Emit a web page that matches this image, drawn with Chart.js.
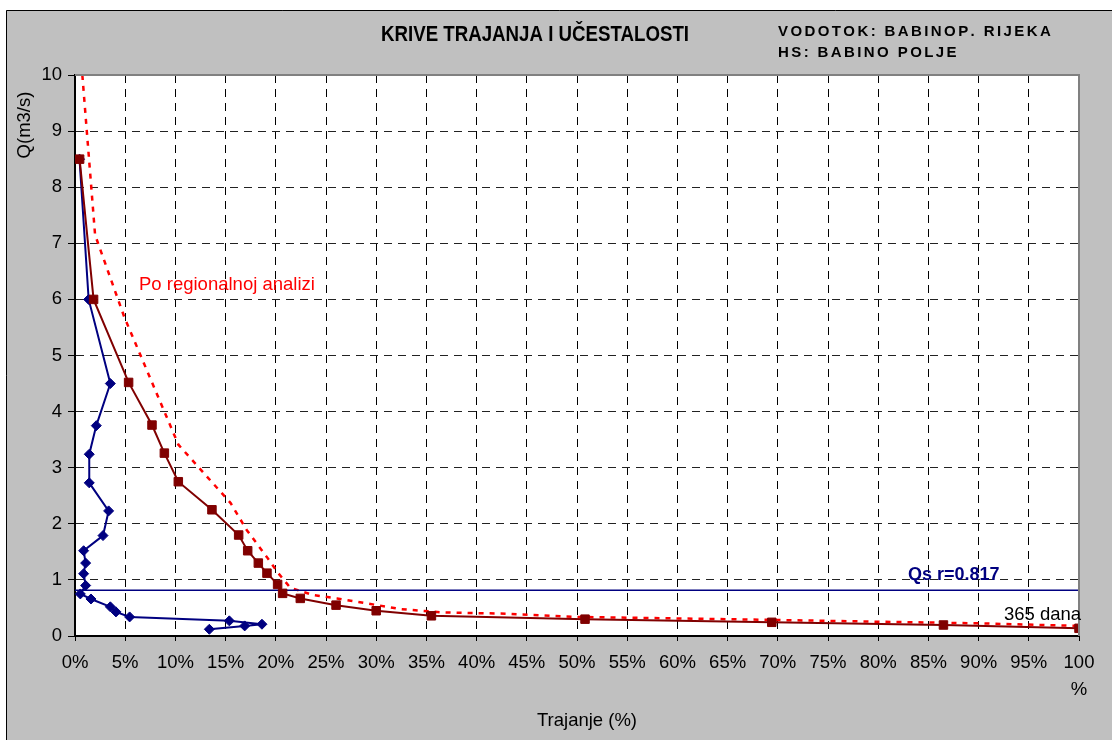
<!DOCTYPE html>
<html>
<head>
<meta charset="utf-8">
<script src="https://cdn.jsdelivr.net/npm/chart.js@4"></script>
<style>
html,body{margin:0;padding:0;background:#fff;overflow:hidden}
#wrap{position:relative;width:1112px;height:740px}
</style>
</head>
<body>
<div id="wrap"><canvas id="c" width="1112" height="740"></canvas></div>
<script>
// ---- data ----
const xTickLabels = ['0%','5%','10%','15%','20%','25%','30%','35%','40%','45%','50%','55%','60%','65%','70%','75%','80%','85%','90%','95%',['100','%']];
const yTickLabels = ['0','1','2','3','4','5','6','7','8','9','10'];

// duration curve (trajanje) - brown squares
const durationPct = [0.46, 1.85, 5.34, 7.67, 8.9, 10.29, 13.64, 16.3, 17.2, 18.26, 19.12, 20.18, 20.68, 22.44, 26.0, 30.0, 35.5, 50.8, 69.4, 86.5, 100];
const durationQ   = [8.5, 6.0, 4.52, 3.76, 3.26, 2.75, 2.25, 1.80, 1.52, 1.30, 1.12, 0.92, 0.76, 0.67, 0.55, 0.45, 0.36, 0.30, 0.244, 0.196, 0.137];

// frequency curve (učestalost) - blue diamonds
const frequencyPct = [0.45, 1.36, 3.52, 2.12, 1.42, 1.42, 3.35, 2.79, 0.86, 1.06, 0.86, 1.06, 0.53, 1.59, 3.52, 4.08, 5.44, 15.37, 18.62, 16.9, 13.38];
const frequencyQ   = [8.5, 6.0, 4.5, 3.75, 3.24, 2.73, 2.23, 1.79, 1.52, 1.30, 1.11, 0.90, 0.75, 0.66, 0.52, 0.43, 0.34, 0.27, 0.21, 0.18, 0.12];

// regional analysis curve - red dotted
const regionalPct = [0.73, 2.0, 4.9, 10.3, 15.5, 17.1, 19.1, 20.25, 21.45, 23.7, 26.1, 30.1, 32.4, 36.7, 42.4, 50, 65, 80, 90, 100];
const regionalQ   = [10.0, 7.15, 5.69, 3.41, 2.37, 1.89, 1.41, 1.12, 0.86, 0.73, 0.67, 0.55, 0.48, 0.42, 0.40, 0.34, 0.30, 0.255, 0.226, 0.18];

// mean flow
const qsrValue = 0.817;
const qsrPct = [0, 100];

const texts = {
  title: 'KRIVE TRAJANJA I UČESTALOSTI',
  river: 'VODOTOK: BABINOP. RIJEKA',
  station: 'HS: BABINO POLJE',
  yTitle: 'Q(m3/s)',
  xTitle: 'Trajanje (%)',
  regional: 'Po regionalnoj analizi',
  qsr: 'Qs r=0.817',
  days: '365 dana'
};

const toPts = (xs, ys) => xs.map((x, i) => ({x: x, y: ys[i]}));
const FONT = '"Liberation Sans", Arial, Helvetica, sans-serif';

function spacedText(ctx, str, x, y, spacing) {
  let cx = x;
  for (const ch of str) {
    ctx.fillText(ch, cx, y);
    cx += ctx.measureText(ch).width + spacing;
  }
}

const framePlugin = {
  id: 'frame',
  beforeDraw(chart) {
    const ctx = chart.ctx, a = chart.chartArea;
    ctx.save();
    ctx.fillStyle = '#ffffff';
    ctx.fillRect(0, 0, chart.width, chart.height);
    ctx.fillStyle = '#c0c0c0';
    ctx.fillRect(6, 10, chart.width, chart.height);
    ctx.strokeStyle = '#000';
    ctx.lineWidth = 1;
    ctx.beginPath();
    ctx.moveTo(6.5, chart.height); ctx.lineTo(6.5, 10.5); ctx.lineTo(chart.width, 10.5);
    ctx.stroke();
    ctx.fillStyle = '#ffffff';
    ctx.fillRect(a.left, a.top, a.right - a.left, a.bottom - a.top);
    ctx.restore();
  },
  afterDraw(chart) {
    const ctx = chart.ctx, a = chart.chartArea;
    const ys = chart.scales.y;
    ctx.save();
    // plot border top/right
    ctx.strokeStyle = '#808080';
    ctx.lineWidth = 2;
    ctx.beginPath();
    ctx.moveTo(a.left, a.top); ctx.lineTo(a.right, a.top); ctx.lineTo(a.right, a.bottom);
    ctx.stroke();

    ctx.textBaseline = 'middle';
    // title (condensed bold)
    ctx.fillStyle = '#000';
    ctx.font = 'bold 22px ' + FONT;
    const tw = ctx.measureText(texts.title).width;
    ctx.save();
    ctx.translate(535, 35);
    ctx.scale(308 / tw, 1);
    ctx.textAlign = 'center';
    ctx.fillText(texts.title, 0, 0);
    ctx.restore();

    // station info (letter spaced)
    ctx.textAlign = 'left';
    ctx.font = 'bold 15px ' + FONT;
    spacedText(ctx, texts.river, 778, 32, 2.4);
    spacedText(ctx, texts.station, 778, 53, 2.4);

    // axis titles
    ctx.font = '18.5px ' + FONT;
    ctx.textAlign = 'center';
    ctx.fillText(texts.xTitle, 587, 721);
    ctx.save();
    ctx.translate(25, 125);
    ctx.rotate(-Math.PI / 2);
    ctx.fillText(texts.yTitle, 0, 0);
    ctx.restore();

    // annotations
    ctx.textAlign = 'left';
    ctx.fillStyle = '#ff0000';
    ctx.fillText(texts.regional, 139, 285);
    ctx.fillStyle = '#000080';
    ctx.font = 'bold 18px ' + FONT;
    ctx.fillText(texts.qsr, 908, ys.getPixelForValue(qsrValue) - 15);
    ctx.fillStyle = '#000';
    ctx.font = '18.5px ' + FONT;
    ctx.fillText(texts.days, 1004, 615);
    ctx.restore();
  }
};

new Chart(document.getElementById('c'), {
  type: 'scatter',
  data: {
    datasets: [
      {
        label: 'Trajanje',
        data: toPts(durationPct, durationQ),
        showLine: true,
        borderColor: '#800000',
        backgroundColor: '#800000',
        borderWidth: 2,
        pointStyle: 'rect',
        pointRadius: 6,
        pointBorderWidth: 1,
        tension: 0
      },
      {
        label: 'Učestalost',
        data: toPts(frequencyPct, frequencyQ),
        showLine: true,
        borderColor: '#000080',
        backgroundColor: '#000080',
        borderWidth: 2,
        pointStyle: 'rectRot',
        pointRadius: 5,
        pointBorderWidth: 1,
        tension: 0
      },
      {
        label: 'Qsr',
        data: toPts(qsrPct, [qsrValue, qsrValue]),
        showLine: true,
        borderColor: '#000080',
        borderWidth: 1.5,
        pointRadius: 0
      },
      {
        label: 'Po regionalnoj analizi',
        data: toPts(regionalPct, regionalQ),
        showLine: true,
        borderColor: '#ff0000',
        borderWidth: 2.5,
        borderDash: [5, 6],
        pointRadius: 0,
        tension: 0
      }
    ]
  },
  options: {
    responsive: false,
    devicePixelRatio: 1,
    animation: false,
    events: [],
    layout: { padding: { left: 0, top: 75, right: 33, bottom: 0 } },
    plugins: { legend: { display: false }, tooltip: { enabled: false }, title: { display: false } },
    scales: {
      x: {
        type: 'linear',
        min: 0, max: 100,
        afterFit: s => { s.height = 104; },
        ticks: {
          stepSize: 5,
          autoSkip: false,
          maxRotation: 0,
          padding: 8,
          color: '#000',
          font: { family: FONT, size: 18.5, lineHeight: 1.46 },
          callback: (v, i) => xTickLabels[i]
        },
        grid: { color: '#000', lineWidth: 1, tickLength: 5, tickColor: '#000', tickBorderDash: [0, 0] },
        border: { color: '#000', width: 2, dash: [8, 6] }
      },
      y: {
        type: 'linear',
        min: 0, max: 10,
        afterFit: s => { s.width = 75; },
        ticks: {
          stepSize: 1,
          padding: 6,
          color: '#000',
          font: { family: FONT, size: 18.5 },
          callback: (v, i) => yTickLabels[i]
        },
        grid: { color: '#222', lineWidth: 1, tickLength: 7, tickColor: '#000', tickBorderDash: [0, 0] },
        border: { color: '#000', width: 2, dash: [8, 6] }
      }
    }
  },
  plugins: [framePlugin]
});
</script>
</body>
</html>
